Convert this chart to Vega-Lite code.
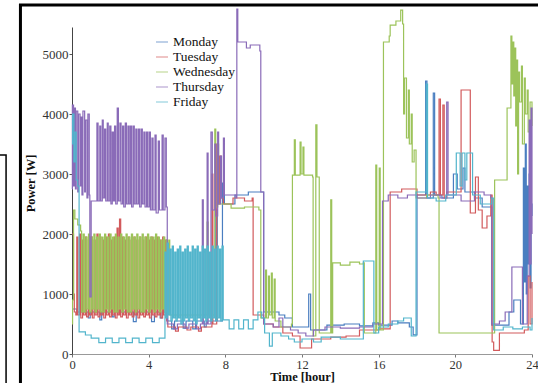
{
  "$schema": "https://vega.github.io/schema/vega-lite/v6.json",
  "width": 460,
  "height": 327,
  "autosize": {"type": "none"},
  "padding": {"left": 72, "top": 27, "right": 6, "bottom": 29},
  "background": "white",
  "config": {
    "view": {"stroke": null},
    "axis": {"labelFont": "Liberation Serif", "titleFont": "Liberation Serif", "labelColor": "#333", "titleColor": "#111", "grid": false},
    "legend": {"labelFont": "Liberation Serif"}
  },
  "datasets": {
    "monday": [
      {"hour":0,"power":750},{"hour":0.25,"power":700},{"hour":0.85,"power":600},{"hour":0.95,"power":700},{"hour":1.45,"power":570},{"hour":1.55,"power":700},{"hour":2.1,"power":620},{"hour":2.2,"power":700},{"hour":3.2,"power":540},{"hour":3.35,"power":700},{"hour":4.15,"power":540},{"hour":4.3,"power":700},{"hour":4.6,"power":600},{"hour":4.7,"power":700},{"hour":5.0,"power":550},{"hour":5.2,"power":420},{"hour":5.35,"power":550},{"hour":5.8,"power":430},{"hour":5.95,"power":550},{"hour":6.3,"power":420},{"hour":6.45,"power":550},{"hour":6.9,"power":450},{"hour":7.0,"power":550},{"hour":7.5,"power":2400},{"hour":7.58,"power":550},{"hour":7.85,"power":2850},{"hour":7.95,"power":2500},{"hour":8.5,"power":2650},{"hour":9.2,"power":2700},{"hour":10.0,"power":700},{"hour":10.8,"power":650},{"hour":11.1,"power":600},{"hour":11.5,"power":450},{"hour":12.35,"power":1000},{"hour":12.45,"power":400},{"hour":13.3,"power":480},{"hour":14.2,"power":500},{"hour":15.0,"power":470},{"hour":15.7,"power":520},{"hour":16.0,"power":480},{"hour":16.7,"power":550},{"hour":17.0,"power":520},{"hour":17.6,"power":450},{"hour":17.8,"power":320},{"hour":18.0,"power":2650},{"hour":18.45,"power":4550},{"hour":18.52,"power":2600},{"hour":18.85,"power":4350},{"hour":18.92,"power":2650},{"hour":19.3,"power":2600},{"hour":19.9,"power":3000},{"hour":20.1,"power":2750},{"hour":20.4,"power":3100},{"hour":20.5,"power":2700},{"hour":21.0,"power":2600},{"hour":21.4,"power":2450},{"hour":21.9,"power":480},{"hour":22.8,"power":700},{"hour":23.05,"power":900},{"hour":23.4,"power":500},{"hour":23.55,"power":3100},{"hour":23.6,"power":1200},{"hour":23.65,"power":3500},{"hour":23.7,"power":1000},{"hour":23.75,"power":2800},{"hour":23.8,"power":1500},{"hour":23.85,"power":3000},{"hour":23.9,"power":1100},{"hour":23.95,"power":2500},{"hour":24.0,"power":2300}
    ],
    "tuesday": [
      {"hour":0,"power":2000},{"hour":0.08,"power":1000},{"hour":0.12,"power":700},{"hour":0.2,"power":650},
      {"hour":0.25,"power":1950},{"hour":0.31,"power":650},{"hour":0.4,"power":2000},{"hour":0.46,"power":600},{"hour":0.55,"power":1900},{"hour":0.61,"power":650},{"hour":0.7,"power":1950},{"hour":0.76,"power":620},{"hour":0.85,"power":1900},{"hour":0.91,"power":650},{"hour":1.0,"power":1950},{"hour":1.06,"power":600},{"hour":1.15,"power":1900},{"hour":1.21,"power":650},{"hour":1.3,"power":2000},{"hour":1.36,"power":620},{"hour":1.45,"power":1950},{"hour":1.51,"power":650},{"hour":1.6,"power":1900},{"hour":1.66,"power":600},{"hour":1.75,"power":1950},{"hour":1.81,"power":650},{"hour":1.9,"power":2000},{"hour":1.96,"power":620},{"hour":2.05,"power":1900},{"hour":2.11,"power":650},{"hour":2.2,"power":1950},{"hour":2.26,"power":600},{"hour":2.35,"power":2100},{"hour":2.41,"power":650},{"hour":2.48,"power":2250},{"hour":2.54,"power":620},{"hour":2.63,"power":1950},{"hour":2.69,"power":650},{"hour":2.78,"power":1900},{"hour":2.84,"power":600},{"hour":2.93,"power":1950},{"hour":2.99,"power":650},{"hour":3.08,"power":1900},{"hour":3.14,"power":620},{"hour":3.23,"power":1950},{"hour":3.29,"power":650},{"hour":3.38,"power":1900},{"hour":3.44,"power":600},{"hour":3.53,"power":1950},{"hour":3.59,"power":650},{"hour":3.68,"power":1900},{"hour":3.74,"power":620},{"hour":3.83,"power":1950},{"hour":3.89,"power":650},{"hour":3.98,"power":1900},{"hour":4.04,"power":600},{"hour":4.13,"power":1950},{"hour":4.19,"power":650},{"hour":4.28,"power":1900},{"hour":4.34,"power":620},{"hour":4.43,"power":1950},{"hour":4.49,"power":650},{"hour":4.58,"power":1900},{"hour":4.64,"power":600},{"hour":4.73,"power":1950},{"hour":4.79,"power":650},{"hour":4.88,"power":1900},{"hour":4.94,"power":550},
      {"hour":5.0,"power":450},{"hour":5.4,"power":380},{"hour":5.55,"power":450},{"hour":6.0,"power":400},{"hour":6.2,"power":450},{"hour":6.6,"power":380},{"hour":6.75,"power":450},{"hour":7.3,"power":3000},{"hour":7.35,"power":500},{"hour":7.55,"power":3500},{"hour":7.62,"power":2500},{"hour":7.7,"power":3300},{"hour":7.78,"power":2600},{"hour":7.9,"power":2500},{"hour":8.4,"power":2600},{"hour":9.0,"power":2550},{"hour":9.4,"power":2600},{"hour":9.45,"power":650},{"hour":10.0,"power":500},{"hour":10.5,"power":450},{"hour":11.0,"power":350},{"hour":11.5,"power":300},{"hour":11.9,"power":100},{"hour":12.5,"power":250},{"hour":13.5,"power":280},{"hour":14.3,"power":300},{"hour":15.0,"power":400},{"hour":16.0,"power":420},{"hour":16.6,"power":2700},{"hour":17.2,"power":2750},{"hour":18.0,"power":2650},{"hour":18.7,"power":2700},{"hour":19.0,"power":2650},{"hour":19.15,"power":4250},{"hour":19.22,"power":2650},{"hour":19.35,"power":4150},{"hour":19.42,"power":2600},{"hour":19.55,"power":2700},{"hour":20.3,"power":4400},{"hour":20.78,"power":2350},{"hour":21.05,"power":2950},{"hour":21.2,"power":2400},{"hour":21.4,"power":2100},{"hour":21.65,"power":2300},{"hour":21.85,"power":2650},{"hour":21.92,"power":200},{"hour":22.0,"power":60},{"hour":22.3,"power":350},{"hour":23.0,"power":350},{"hour":23.6,"power":400},{"hour":23.8,"power":1300},{"hour":23.9,"power":500},{"hour":24.0,"power":1200}
    ],
    "wednesday": [
      {"hour":0,"power":500},{"hour":0.03,"power":900},{"hour":0.08,"power":2400},{"hour":0.15,"power":2250},{"hour":0.3,"power":2150},{"hour":0.45,"power":2050},{"hour":0.5,"power":700},
      {"hour":0.58,"power":2000},{"hour":0.64,"power":700},{"hour":0.72,"power":1950},{"hour":0.78,"power":750},{"hour":0.86,"power":2000},{"hour":0.92,"power":700},{"hour":1.0,"power":1950},{"hour":1.06,"power":750},{"hour":1.14,"power":2000},{"hour":1.2,"power":700},{"hour":1.28,"power":1950},{"hour":1.34,"power":750},{"hour":1.42,"power":2000},{"hour":1.48,"power":700},{"hour":1.56,"power":1950},{"hour":1.62,"power":700},{"hour":1.7,"power":2000},{"hour":1.76,"power":750},{"hour":1.84,"power":1950},{"hour":1.9,"power":700},{"hour":1.98,"power":2000},{"hour":2.04,"power":750},{"hour":2.12,"power":1950},{"hour":2.18,"power":700},{"hour":2.26,"power":2000},{"hour":2.32,"power":700},{"hour":2.4,"power":1950},{"hour":2.46,"power":750},{"hour":2.54,"power":2000},{"hour":2.6,"power":700},{"hour":2.68,"power":1950},{"hour":2.74,"power":750},{"hour":2.82,"power":2000},{"hour":2.88,"power":700},{"hour":2.96,"power":1950},{"hour":3.02,"power":700},{"hour":3.1,"power":2000},{"hour":3.16,"power":750},{"hour":3.24,"power":1950},{"hour":3.3,"power":700},{"hour":3.38,"power":2000},{"hour":3.44,"power":750},{"hour":3.52,"power":1950},{"hour":3.58,"power":700},{"hour":3.66,"power":2000},{"hour":3.72,"power":700},{"hour":3.8,"power":1950},{"hour":3.86,"power":750},{"hour":3.94,"power":2000},{"hour":4.0,"power":700},{"hour":4.08,"power":1950},{"hour":4.14,"power":750},{"hour":4.22,"power":1950},{"hour":4.28,"power":700},{"hour":4.36,"power":2000},{"hour":4.42,"power":750},{"hour":4.5,"power":1950},{"hour":4.56,"power":700},{"hour":4.64,"power":1900},{"hour":4.7,"power":750},{"hour":4.78,"power":1950},{"hour":4.84,"power":700},{"hour":4.92,"power":1900},{"hour":4.98,"power":700},
      {"hour":5.05,"power":1900},{"hour":5.1,"power":650},{"hour":7.05,"power":2200},{"hour":7.1,"power":650},{"hour":7.45,"power":3750},{"hour":7.5,"power":2450},{"hour":7.6,"power":3500},{"hour":7.65,"power":2500},{"hour":8.3,"power":2430},{"hour":9.0,"power":2450},{"hour":9.75,"power":2400},{"hour":9.85,"power":600},{"hour":10.1,"power":1400},{"hour":10.15,"power":600},{"hour":10.25,"power":1300},{"hour":10.3,"power":650},{"hour":10.4,"power":1350},{"hour":10.45,"power":600},{"hour":10.55,"power":1250},{"hour":10.6,"power":550},{"hour":10.9,"power":450},{"hour":11.45,"power":500},{"hour":11.5,"power":2980},{"hour":11.6,"power":3570},{"hour":11.65,"power":2980},{"hour":11.9,"power":3530},{"hour":11.95,"power":3000},{"hour":12.05,"power":3450},{"hour":12.1,"power":2980},{"hour":12.55,"power":2950},{"hour":12.58,"power":300},{"hour":12.72,"power":3820},{"hour":12.78,"power":2950},{"hour":12.9,"power":350},{"hour":13.5,"power":2570},{"hour":13.55,"power":350},{"hour":13.6,"power":1520},{"hour":14.0,"power":1480},{"hour":14.5,"power":1530},{"hour":15.0,"power":1500},{"hour":15.2,"power":1520},{"hour":15.25,"power":350},{"hour":15.85,"power":3150},{"hour":15.9,"power":400},{"hour":16.03,"power":3100},{"hour":16.08,"power":400},{"hour":16.25,"power":5200},{"hour":16.55,"power":5300},{"hour":16.6,"power":5480},{"hour":16.9,"power":5550},{"hour":17.15,"power":5730},{"hour":17.25,"power":5500},{"hour":17.3,"power":4000},{"hour":17.35,"power":4600},{"hour":17.45,"power":3600},{"hour":17.55,"power":4400},{"hour":17.6,"power":3500},{"hour":17.7,"power":4000},{"hour":17.75,"power":3200},{"hour":17.85,"power":3400},{"hour":17.95,"power":2600},{"hour":18.5,"power":2650},{"hour":19.1,"power":2600},{"hour":19.15,"power":350},{"hour":21.7,"power":350},{"hour":22.05,"power":2900},{"hour":22.7,"power":4100},{"hour":22.9,"power":5300},{"hour":22.95,"power":4500},{"hour":23.0,"power":5200},{"hour":23.05,"power":4300},{"hour":23.1,"power":5100},{"hour":23.15,"power":3800},{"hour":23.2,"power":4900},{"hour":23.25,"power":3000},{"hour":23.3,"power":4700},{"hour":23.35,"power":4200},{"hour":23.45,"power":4800},{"hour":23.5,"power":3500},{"hour":23.6,"power":4600},{"hour":23.65,"power":4000},{"hour":23.75,"power":4400},{"hour":23.8,"power":3700},{"hour":23.9,"power":4200},{"hour":24.0,"power":3800}
    ],
    "thursday": [
      {"hour":0,"power":2750},{"hour":0.02,"power":4150},{"hour":0.08,"power":2800},{"hour":0.12,"power":4100},{"hour":0.18,"power":2750},{"hour":0.22,"power":4050},{"hour":0.3,"power":2700},{"hour":0.34,"power":4000},{"hour":0.42,"power":2800},{"hour":0.46,"power":3950},{"hour":0.52,"power":2650},{"hour":0.57,"power":4050},{"hour":0.66,"power":2700},{"hour":0.7,"power":3900},{"hour":0.78,"power":2600},{"hour":0.83,"power":4000},{"hour":0.9,"power":2650},{"hour":0.93,"power":950},{"hour":1.0,"power":2550},
      {"hour":1.3,"power":3850},{"hour":1.36,"power":2550},{"hour":1.45,"power":3800},{"hour":1.5,"power":2550},{"hour":1.58,"power":3900},{"hour":1.63,"power":2600},{"hour":1.7,"power":3750},{"hour":1.76,"power":2550},{"hour":1.84,"power":3850},{"hour":1.89,"power":2550},{"hour":1.97,"power":3800},{"hour":2.03,"power":2500},{"hour":2.1,"power":3700},{"hour":2.16,"power":2550},{"hour":2.22,"power":3800},{"hour":2.28,"power":2500},{"hour":2.36,"power":4100},{"hour":2.42,"power":2550},{"hour":2.5,"power":3850},{"hour":2.56,"power":2500},{"hour":2.64,"power":3800},{"hour":2.7,"power":2450},{"hour":2.78,"power":3850},{"hour":2.84,"power":2500},{"hour":2.92,"power":3800},{"hour":2.98,"power":2500},{"hour":3.05,"power":3800},{"hour":3.11,"power":2450},{"hour":3.19,"power":3800},{"hour":3.25,"power":2500},{"hour":3.33,"power":3750},{"hour":3.39,"power":2500},{"hour":3.47,"power":3750},{"hour":3.53,"power":2450},{"hour":3.61,"power":3750},{"hour":3.67,"power":2500},{"hour":3.75,"power":3700},{"hour":3.81,"power":2450},{"hour":3.89,"power":3700},{"hour":3.95,"power":2450},{"hour":4.03,"power":3700},{"hour":4.09,"power":2400},{"hour":4.17,"power":3600},{"hour":4.23,"power":2400},{"hour":4.33,"power":3650},{"hour":4.39,"power":2350},{"hour":4.5,"power":3550},{"hour":4.56,"power":2400},{"hour":4.7,"power":3650},{"hour":4.76,"power":2400},{"hour":4.85,"power":3600},{"hour":4.92,"power":2450},
      {"hour":4.97,"power":500},{"hour":5.3,"power":420},{"hour":5.5,"power":500},{"hour":5.9,"power":430},{"hour":6.1,"power":500},{"hour":6.5,"power":420},{"hour":6.7,"power":500},{"hour":6.8,"power":2570},{"hour":6.85,"power":500},{"hour":7.05,"power":3350},{"hour":7.1,"power":500},{"hour":7.25,"power":3700},{"hour":7.32,"power":2400},{"hour":7.45,"power":3500},{"hour":7.5,"power":2300},{"hour":7.6,"power":3700},{"hour":7.65,"power":2500},{"hour":7.75,"power":3300},{"hour":7.8,"power":2600},{"hour":7.9,"power":3600},{"hour":7.95,"power":2650},{"hour":8.55,"power":2600},{"hour":8.6,"power":5750},{"hour":8.65,"power":5200},{"hour":9.1,"power":5100},{"hour":9.3,"power":5150},{"hour":9.8,"power":5050},{"hour":9.85,"power":2700},{"hour":10.0,"power":500},{"hour":10.5,"power":450},{"hour":10.8,"power":600},{"hour":11.0,"power":450},{"hour":11.4,"power":400},{"hour":11.8,"power":350},{"hour":12.2,"power":300},{"hour":12.6,"power":400},{"hour":13.2,"power":450},{"hour":14.0,"power":430},{"hour":15.0,"power":450},{"hour":15.7,"power":500},{"hour":16.2,"power":2550},{"hour":16.5,"power":2650},{"hour":17.0,"power":2600},{"hour":17.5,"power":2650},{"hour":18.0,"power":2600},{"hour":18.7,"power":2650},{"hour":19.2,"power":2600},{"hour":19.55,"power":4200},{"hour":19.62,"power":2650},{"hour":20.3,"power":2550},{"hour":21.0,"power":2700},{"hour":21.5,"power":2650},{"hour":21.85,"power":2600},{"hour":21.9,"power":500},{"hour":22.3,"power":550},{"hour":22.6,"power":700},{"hour":22.95,"power":1450},{"hour":23.5,"power":500},{"hour":23.75,"power":1300},{"hour":23.85,"power":3900},{"hour":23.9,"power":1500},{"hour":23.95,"power":4100},{"hour":24.0,"power":2000}
    ],
    "friday": [
      {"hour":0,"power":3500},{"hour":0.03,"power":4000},{"hour":0.1,"power":3200},{"hour":0.15,"power":3700},{"hour":0.22,"power":2900},{"hour":0.3,"power":2800},{"hour":0.37,"power":370},{"hour":0.7,"power":317},{"hour":1.0,"power":265},{"hour":1.4,"power":190},{"hour":1.75,"power":265},{"hour":2.1,"power":190},{"hour":2.45,"power":265},{"hour":2.8,"power":190},{"hour":3.15,"power":265},{"hour":3.5,"power":190},{"hour":3.85,"power":265},{"hour":4.2,"power":190},{"hour":4.55,"power":265},
      {"hour":4.85,"power":1700},{"hour":4.9,"power":600},{"hour":4.97,"power":1850},{"hour":5.03,"power":650},{"hour":5.1,"power":1750},{"hour":5.16,"power":550},{"hour":5.23,"power":1800},{"hour":5.29,"power":600},{"hour":5.36,"power":1700},{"hour":5.42,"power":550},{"hour":5.49,"power":1750},{"hour":5.55,"power":600},{"hour":5.62,"power":1800},{"hour":5.68,"power":500},{"hour":5.75,"power":1700},{"hour":5.81,"power":550},{"hour":5.88,"power":1750},{"hour":5.94,"power":600},{"hour":6.01,"power":1800},{"hour":6.07,"power":550},{"hour":6.14,"power":1700},{"hour":6.2,"power":600},{"hour":6.27,"power":1800},{"hour":6.33,"power":550},{"hour":6.4,"power":1750},{"hour":6.46,"power":500},{"hour":6.53,"power":1800},{"hour":6.59,"power":600},{"hour":6.66,"power":1700},{"hour":6.72,"power":550},{"hour":6.79,"power":1800},{"hour":6.85,"power":600},{"hour":6.92,"power":1750},{"hour":6.98,"power":550},{"hour":7.05,"power":1800},{"hour":7.11,"power":600},{"hour":7.18,"power":1700},{"hour":7.24,"power":550},{"hour":7.31,"power":1800},{"hour":7.37,"power":600},{"hour":7.44,"power":1750},{"hour":7.5,"power":550},{"hour":7.57,"power":1800},{"hour":7.63,"power":600},{"hour":7.7,"power":1750},{"hour":7.76,"power":550},{"hour":7.83,"power":1800},{"hour":7.89,"power":570},
      {"hour":8.2,"power":420},{"hour":8.45,"power":570},{"hour":8.7,"power":420},{"hour":8.95,"power":570},{"hour":9.2,"power":420},{"hour":9.45,"power":570},{"hour":9.7,"power":700},{"hour":9.9,"power":600},{"hour":10.05,"power":350},{"hour":10.3,"power":130},{"hour":10.45,"power":350},{"hour":10.9,"power":300},{"hour":11.3,"power":250},{"hour":11.6,"power":200},{"hour":12.0,"power":250},{"hour":12.6,"power":200},{"hour":13.0,"power":280},{"hour":14.0,"power":250},{"hour":15.0,"power":250},{"hour":15.2,"power":1550},{"hour":15.75,"power":350},{"hour":16.0,"power":450},{"hour":16.5,"power":500},{"hour":17.0,"power":550},{"hour":17.3,"power":600},{"hour":17.7,"power":300},{"hour":17.95,"power":2700},{"hour":18.48,"power":4500},{"hour":18.55,"power":2600},{"hour":19.0,"power":2550},{"hour":19.5,"power":2650},{"hour":20.05,"power":3350},{"hour":20.25,"power":2800},{"hour":20.35,"power":3350},{"hour":20.5,"power":2900},{"hour":20.6,"power":3350},{"hour":20.9,"power":2650},{"hour":21.3,"power":2500},{"hour":21.9,"power":2600},{"hour":22.0,"power":400},{"hour":22.5,"power":450},{"hour":23.0,"power":420},{"hour":23.5,"power":450},{"hour":23.9,"power":400},{"hour":24.0,"power":600}
    ]
  },
  "layer": [
    {
      "data": {"name": "monday"},
      "mark": {"type": "line", "interpolate": "step-after", "strokeWidth": 1.2},
      "encoding": {
        "x": {"field": "hour", "type": "quantitative", "scale": {"domain": [0, 24], "nice": false},
          "axis": {"values": [0,4,8,12,16,20,24], "format": "d", "title": "Time [hour]", "labelFontSize": 12.5, "titleFontSize": 12.5, "titleFontWeight": "bold", "tickSize": 3, "labelPadding": 1, "titlePadding": 0, "domainColor": "#999", "tickColor": "#777", "labelFlush": false}},
        "y": {"field": "power", "type": "quantitative", "scale": {"domain": [0, 5450], "nice": false},
          "axis": {"values": [0,1000,2000,3000,4000,5000], "format": "d", "title": "Power [W]", "labelFontSize": 13, "titleFontSize": 12.5, "titleFontWeight": "bold", "tickSize": 3, "labelPadding": 1, "titleX": -35, "titleY": 156, "domainColor": "#444", "tickColor": "#555", "labelFlush": false}},
        "color": {"datum": "Monday", "type": "nominal",
          "scale": {"domain": ["Monday","Tuesday","Wednesday","Thursday","Friday"], "range": ["#4a7ec0","#d25a5c","#9cc35a","#8a6bb8","#52b5cc"]},
          "legend": {"title": null, "orient": "none", "legendX": 83, "legendY": 8, "symbolType": "stroke", "symbolSize": 144, "symbolStrokeWidth": 1.3, "symbolOpacity": 0.55, "labelFontSize": 13.5, "labelColor": "#111", "rowPadding": 1, "labelOffset": 4}}
      }
    },
    {
      "data": {"name": "tuesday"},
      "mark": {"type": "line", "interpolate": "step-after", "strokeWidth": 1.2},
      "encoding": {"x": {"field": "hour", "type": "quantitative"}, "y": {"field": "power", "type": "quantitative"}, "color": {"datum": "Tuesday", "type": "nominal"}}
    },
    {
      "data": {"name": "wednesday"},
      "mark": {"type": "line", "interpolate": "step-after", "strokeWidth": 1.2},
      "encoding": {"x": {"field": "hour", "type": "quantitative"}, "y": {"field": "power", "type": "quantitative"}, "color": {"datum": "Wednesday", "type": "nominal"}}
    },
    {
      "data": {"name": "thursday"},
      "mark": {"type": "line", "interpolate": "step-after", "strokeWidth": 1.2},
      "encoding": {"x": {"field": "hour", "type": "quantitative"}, "y": {"field": "power", "type": "quantitative"}, "color": {"datum": "Thursday", "type": "nominal"}}
    },
    {
      "data": {"name": "friday"},
      "mark": {"type": "line", "interpolate": "step-after", "strokeWidth": 1.2},
      "encoding": {"x": {"field": "hour", "type": "quantitative"}, "y": {"field": "power", "type": "quantitative"}, "color": {"datum": "Friday", "type": "nominal"}}
    },
    {
      "data": {"values": [{}]},
      "mark": {"type": "rect", "fill": null, "stroke": "#000", "strokeWidth": 3, "clip": false},
      "encoding": {"x": {"datum": -2.69, "type": "quantitative"}, "x2": {"datum": 24.7}, "y": {"datum": 5817, "type": "quantitative"}, "y2": {"datum": -600}}
    },
    {
      "data": {"values": [{}]},
      "mark": {"type": "rect", "fill": null, "stroke": "#000", "strokeWidth": 1.5, "clip": false},
      "encoding": {"x": {"datum": -4.2, "type": "quantitative"}, "x2": {"datum": -3.44}, "y": {"datum": 3317, "type": "quantitative"}, "y2": {"datum": -600}}
    }
  ]
}
